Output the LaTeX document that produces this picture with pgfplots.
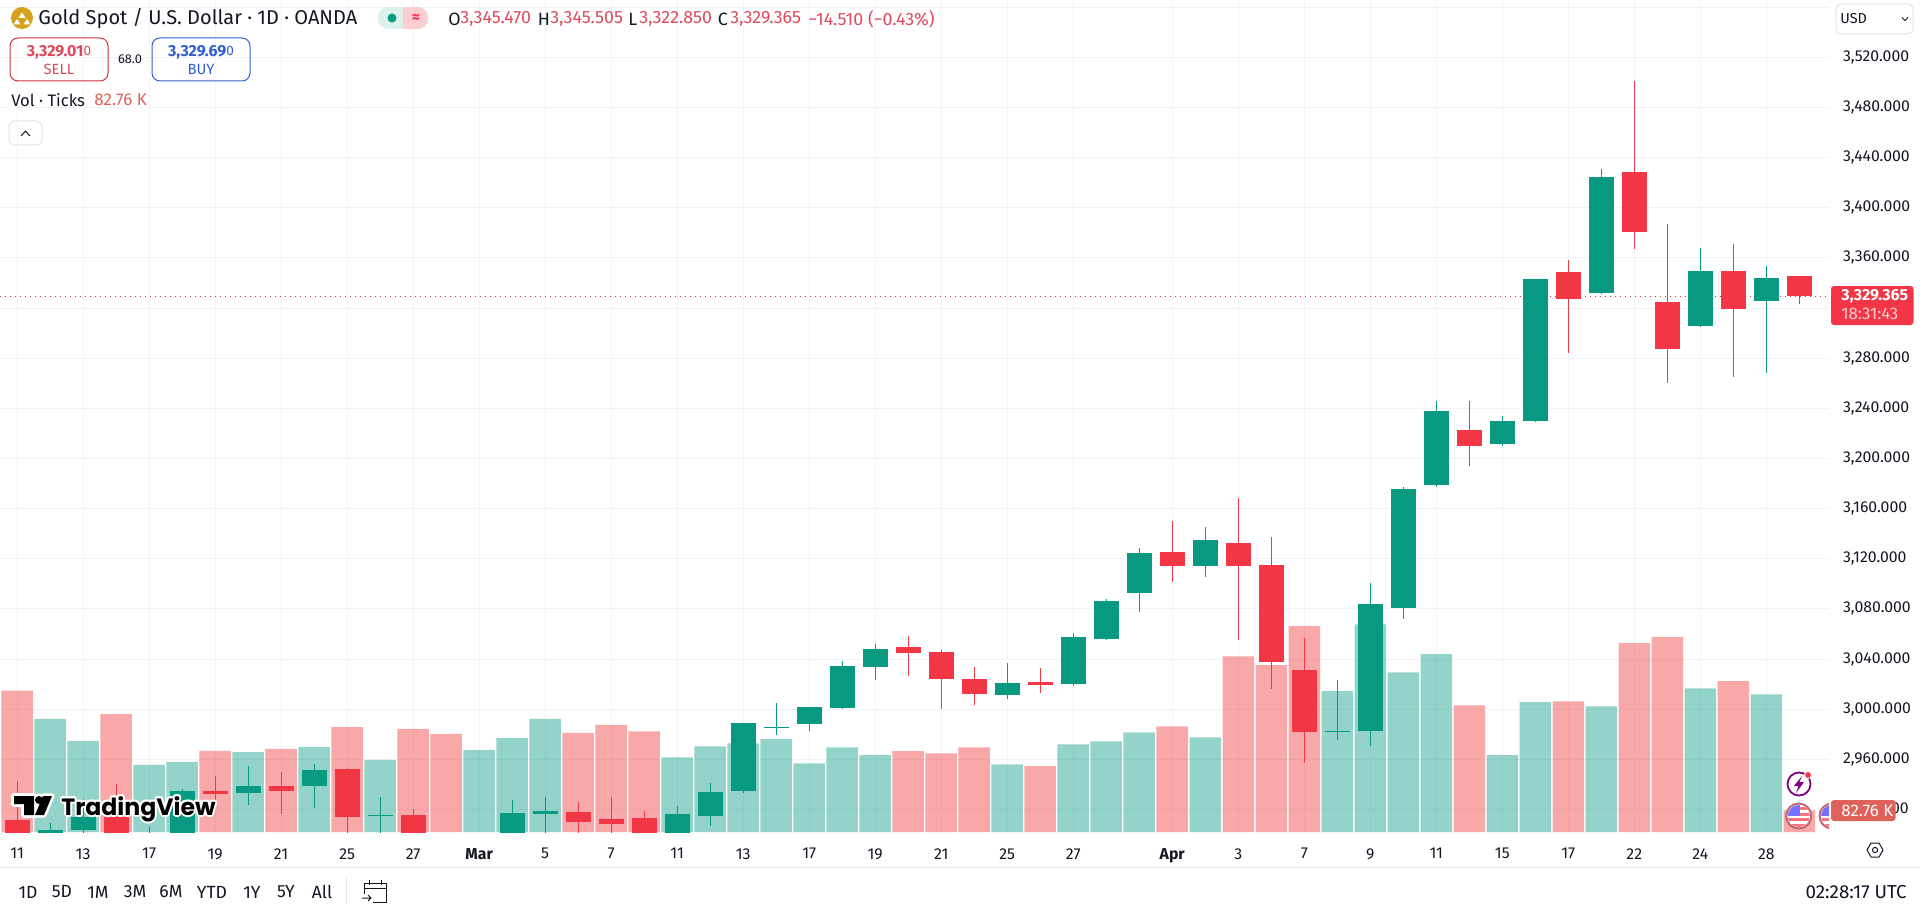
\documentclass[border=0pt]{standalone}
\usepackage{fontspec}
\usepackage{pgfplots}
\usepackage{pgfplotstable}
\pgfplotsset{compat=1.18}
\setmainfont{Fira Sans}
\newfontfamily\tvfont{Poppins}
\definecolor{upc}{HTML}{089981}
\definecolor{downc}{HTML}{F23645}
\definecolor{volred}{HTML}{F0363A}
\definecolor{inkc}{HTML}{131722}
\definecolor{gridc}{HTML}{F0F3FA}
\definecolor{redt}{HTML}{DD4A5C}
\definecolor{bluet}{HTML}{2F5FD0}
\definecolor{volt}{HTML}{E0605A}
\definecolor{sepc}{HTML}{E0E3EB}
\definecolor{goldc}{HTML}{D6A21E}
\pgfplotstableread{
x o h l c
1 2900 2909.4 2880 2903.6
2 2903.6 2928 2900 2914.2
4 2885 2906 2878 2896
5 2898 2936.3 2890 2934.7
7 2933.1 2954.7 2923.5 2938.7
9 2939 2956.3 2921.4 2951.5
11 2914.8 2930.2 2895 2915.6
14 2858 2892 2850 2887
15 2893 2927.5 2888 2917.2
16 2916.4 2930.2 2895 2918.8
20 2890 2922.8 2885 2916
21 2914.8 2940.9 2906.8 2934
22 2934.7 2989.3 2933.1 2988.7
23 2984.8 3005.2 2979.4 2985.8
24 2988.2 3002 2982.6 3001.5
25 3000.7 3038.7 3000.2 3034.2
26 3033.7 3052.3 3023 3047.8
30 3011.1 3036.6 3007.9 3020.6
32 3020.1 3060.5 3018.5 3057.3
33 3056 3087.7 3055 3086.1
34 3092.7 3128.4 3077.6 3124.4
36 3114.3 3145.6 3105.5 3134.7
40 2981.5 3023 2975.2 2982.3
41 2982.3 3100.4 2970.6 3083.7
42 3080.7 3177 3071.7 3175.6
43 3178.8 3245.8 3177.4 3237.8
45 3211.5 3233.8 3210.2 3229.8
46 3229.8 3343.5 3229.5 3343.1
48 3332.2 3430.6 3332 3424.5
51 3305.9 3367.9 3305.7 3349.5
53 3325.9 3353.5 3268.4 3343.9
}\upcandles
\pgfplotstableread{
x o h l c
0 2911.6 2942.7 2888 2895
3 2914.2 2940 2877 2882
6 2934.7 2946.7 2920 2932.3
8 2938.7 2950.1 2916.1 2935
10 2952.3 2952.8 2890 2914.2
12 2915.6 2920.1 2880 2885
13 2877 2883 2832 2858
17 2918 2926.2 2898 2910
18 2912.4 2929.7 2898 2908.4
19 2913 2919 2880 2888
27 3049.4 3058.1 3026.5 3044.8
28 3045.4 3047.5 3000 3023.8
29 3023.8 3033.4 3003.4 3011.9
31 3021.4 3032.6 3012.9 3019.3
35 3125.2 3149.9 3101.5 3114.3
37 3132.3 3168.2 3055 3114.3
38 3114.8 3137.1 3016.1 3037.7
39 3031 3057 2956.8 2981.8
44 3222.7 3245.8 3194.2 3209.9
47 3348.7 3358.3 3284.4 3327.4
49 3428.5 3501.1 3367.3 3380.9
50 3324.8 3387 3260.4 3287.6
52 3349.5 3371 3265.2 3319.5
54 3345.47 3345.505 3322.85 3329.365
}\downcandles
\pgfplotstableread{
x v
1 431
2 347
4 256
5 267
7 305
9 324
11 275
14 313
15 359
16 431
20 285
21 327
22 338
23 354
24 262
25 323
26 293
30 258
32 334
33 346
34 380
36 361
40 537
41 792
42 609
43 678
45 293
46 495
48 479
51 548
53 525
}\upvol
\pgfplotstableread{
x v
0 539
3 450
6 309
8 317
10 400
12 393
13 374
17 378
18 408
19 384
27 308
28 300
29 323
31 251
35 403
37 670
38 636
39 785
44 483
47 498
49 720
50 743
52 575
54 82.76
}\downvol
\pgfplotsset{
  chartbase/.style={at={(0,37.5pt)},anchor=south west,scale only axis,width=914.5pt,height=416pt,xmin=-0.518,xmax=54.9,clip=true},
  wick/.style={draw=none,mark=none,forget plot,error bars/.cd,y dir=both,y explicit,error mark=none,error bar style={solid,draw=#1,line width=0.55pt}},
  body/.style={draw=none,mark=none,forget plot,error bars/.cd,y dir=both,y explicit,error mark=none,error bar style={solid,draw=#1,line width=12.5pt,line cap=butt}},
}
\newcommand\wicks[2]{\addplot[wick=#1] table[x=x,y=o,y error plus expr={\thisrow{h}-\thisrow{o}},y error minus expr={\thisrow{o}-\thisrow{l}}] {#2};}
\newcommand\bodies[2]{\addplot[body=#1] table[x=x,y=o,y error plus expr={max(\thisrow{c}-\thisrow{o},0)},y error minus expr={max(\thisrow{o}-\thisrow{c},0)}] {#2};}
\newcommand\tv{\fontsize{11.8}{14}\tvfont\bfseries TradingView}
\begin{document}
\begin{tikzpicture}
\path[use as bounding box] (0,0) rectangle (960pt,453.5pt);
% axis with grid and tick labels
\begin{axis}[chartbase,ymin=2902,ymax=3565.7,
  axis line style={draw=none},major tick length=0pt,
  ytick={2920,2960,...,3520},extra y ticks={3560},extra y tick labels={},
  xtick={0,2,4,6,8,10,12,14,16,18,20,22,24,26,28,30,32,35,37,39,41,43,45,47,49,51,53},
  xticklabels={11,13,17,19,21,25,27,{\bfseries Mar},5,7,11,13,17,19,21,25,27,{\bfseries Apr},3,7,9,11,15,17,22,24,28},
  xmajorgrids,ymajorgrids,grid style={draw=gridc,line width=0.5pt},
  yticklabel pos=right,
  tick label style={font=\fontsize{7.9}{9}\selectfont,text=inkc},
  xticklabel style={yshift=-4.6pt,anchor=north},
  yticklabel style={anchor=west,xshift=3.5pt},
  /pgf/number format/assume math mode=true,
  y tick label style={/pgf/number format/.cd,fixed,fixed zerofill,precision=3,1000 sep={,}},
]
\addplot[forget plot,dotted,draw=downc!85!black,line width=0.5pt] coordinates {(-0.518,3329.365) (54.9,3329.365)};
\end{axis}
% volume
\begin{axis}[chartbase,hide axis,ymin=0,ymax=3173,ybar,bar width=15.75pt,bar shift=0pt]
\addplot[draw=none,fill=upc,fill opacity=0.43] table[x=x,y=v] {\upvol};
\addplot[draw=none,fill=volred,fill opacity=0.43] table[x=x,y=v] {\downvol};
\end{axis}
% candles
\begin{axis}[chartbase,hide axis,ymin=2902,ymax=3565.7]
\wicks{upc}{\upcandles}
\wicks{downc}{\downcandles}
\bodies{upc}{\upcandles}
\bodies{downc}{\downcandles}
\end{axis}
% interface, in reference pixels
\begin{scope}[x=0.5pt,y=-0.5pt,yshift=453.5pt]
% separator
\draw[sepc,line width=0.5pt] (0,867)--(1920,867);
% watermark
\begin{scope}[line join=round]
\path[draw=white,line width=2.6pt,fill=white] (14,796)--(34,796)--(34,815)--(24,815)--(24,804)--(14,804)--cycle;
\path[draw=white,line width=2.6pt,fill=white] (35,815)--(44,815)--(52,796)--(43,796)--cycle;
\path[draw=white,line width=2.6pt,fill=white] (39,800) circle (4);
\fill[black] (14,796)--(34,796)--(34,815)--(24,815)--(24,804)--(14,804)--cycle;
\fill[black] (35,815)--(44,815)--(52,796)--(43,796)--cycle;
\fill[black] (39,800) circle (4);
\foreach \dx/\dy in {-2/0,2/0,0/-2,0/2,-1.5/-1.5,1.5/-1.5,-1.5/1.5,1.5/1.5}
  \node[anchor=base west,inner sep=0pt,white] at (61+\dx,815+\dy) {\tv};
\node[anchor=base west,inner sep=0pt,black] at (61,815) {\tv};
\end{scope}
% header
\fill[goldc] (22,18) circle (11);
\fill[white] (22,12.5) -- (25.5,18) -- (18.5,18) -- cycle;
\fill[white] (17,19) -- (20.5,24.5) -- (13.5,24.5) -- cycle;
\fill[white] (27,19) -- (30.5,24.5) -- (23.5,24.5) -- cycle;
\node[anchor=west,inner sep=0pt,text=inkc,font=\fontsize{10}{12}\selectfont] at (38,19) {Gold Spot / U.S. Dollar · 1D · OANDA};
\begin{scope}
\clip[rounded corners=5pt] (378,7) rectangle (428,29);
\fill[upc!14] (378,7) rectangle (403,29);
\fill[downc!25] (403,7) rectangle (428,29);
\end{scope}
\fill[upc] (392,18) circle (4.5);
\node[text=downc,inner sep=0pt,font=\fontsize{8}{10}\selectfont\bfseries] at (416,18) {≈};
\begin{scope}[every node/.style={anchor=west,inner sep=0pt,font=\fontsize{8.9}{11}\selectfont}]
\node[text=inkc] at (448,19) {O};
\node[text=redt] at (460,19) {3,345.470};
\node[text=inkc] at (537.5,19) {H};
\node[text=redt] at (550,19) {3,345.505};
\node[text=inkc] at (628,19) {L};
\node[text=redt] at (639,19) {3,322.850};
\node[text=inkc] at (717.5,19) {C};
\node[text=redt] at (730,19) {3,329.365};
\node[text=redt] at (808,19) {−14.510 (−0.43\%)};
\node[text=inkc,font=\fontsize{8.3}{10}\selectfont] at (11,100) {Vol · Ticks};
\node[text=volt,font=\fontsize{8.5}{10}\selectfont] at (94,100) {82.76 K};
\end{scope}
\draw[downc!85!black,line width=0.5pt,rounded corners=4pt] (10,38) rectangle (108,81);
\draw[bluet,line width=0.5pt,rounded corners=4pt] (152,38) rectangle (250,81);
\node[text=redt,inner sep=0pt,font=\fontsize{8}{9}\selectfont] at (59,52) {\textbf{3,329.01}{\fontsize{6.8}{7}\selectfont\raisebox{0.4pt}{0}}};
\node[text=redt,inner sep=0pt,font=\fontsize{7.4}{8}\selectfont] at (59,69) {SELL};
\node[text=bluet,inner sep=0pt,font=\fontsize{8}{9}\selectfont] at (201,52) {\textbf{3,329.69}{\fontsize{6.8}{7}\selectfont\raisebox{0.4pt}{0}}};
\node[text=bluet,inner sep=0pt,font=\fontsize{7.4}{8}\selectfont] at (201,69) {BUY};
\node[text=inkc,inner sep=0pt,font=\fontsize{6.4}{8}\selectfont] at (130,59) {68.0};
\draw[sepc,line width=0.5pt,rounded corners=2.5pt] (9,121) rectangle (42,145);
\draw[inkc,line width=0.5pt] (21,136)--(25.5,131)--(30,136);
% USD box
\filldraw[fill=white,draw=sepc,line width=0.5pt,rounded corners=2.5pt] (1836,4) rectangle (1913,34);
\node[anchor=west,inner sep=0pt,text=inkc,font=\fontsize{7.2}{8}\selectfont] at (1840,19) {USD};
\draw[inkc,line width=0.5pt] (1902,17.5)--(1905,20.5)--(1908,17.5);
% price label
\fill[downc,rounded corners=1.5pt] (1831,286) rectangle (1913.5,325);
\node[anchor=west,inner sep=0pt,text=white,font=\fontsize{8}{9}\selectfont\bfseries] at (1841,296) {3,329.365};
\node[anchor=west,inner sep=0pt,text=white!75!downc,font=\fontsize{8.4}{10}\selectfont] at (1841,314) {18:31:43};
% icons
\draw[violet,line width=0.9pt] (1799,784) circle (11.5);
\fill[violet] (1802,776)--(1794,786)--(1798.5,786)--(1796,793)--(1804,782)--(1799.5,782)--cycle;
\filldraw[fill=downc,draw=white,line width=0.4pt] (1808,775) circle (3.5);
\begin{scope}
\clip (1700,790) rectangle (1829,840);
\foreach \cx in {1798.7,1832}{
\fill[white] (\cx,816) circle (12);
\begin{scope}
\clip (\cx,816) circle (11);
\fill[downc!70] (\cx-12,818) rectangle (\cx+12,821);
\fill[downc!70] (\cx-12,824) rectangle (\cx+12,827);
\fill[blue!55!white] (\cx-12,804) rectangle (\cx+1,816);
\fill[downc!70] (\cx+1,807) rectangle (\cx+12,810);
\fill[downc!70] (\cx+1,812.5) rectangle (\cx+12,815.5);
\end{scope}
\draw[downc!70!black!70,line width=1pt] (\cx,816) circle (12.5);
}
\end{scope}
% volume label
\fill[volt,rounded corners=1.5pt] (1831,800) rectangle (1895.5,821);
\node[anchor=west,inner sep=0pt,text=white,font=\fontsize{8.4}{10}\selectfont] at (1841,811) {82.76 K};
% settings hexagon
\draw[inkc,line width=0.5pt,line join=round] (1867,850)--(1871,843)--(1879,843)--(1883,850)--(1879,857)--(1871,857)--cycle;
\draw[inkc,line width=0.5pt] (1875,850) circle (2.6);
% toolbar
\begin{scope}[every node/.style={inner sep=0pt,text=inkc,font=\fontsize{8.8}{10}\selectfont}]
\node at (28,892) {1D};
\node at (62,892) {5D};
\node at (98,892) {1M};
\node at (135,892) {3M};
\node at (171,892) {6M};
\node at (212,892) {YTD};
\node at (252,892) {1Y};
\node at (286,892) {5Y};
\node at (322,892) {All};
\node[anchor=east,font=\fontsize{9.4}{11}\selectfont] at (1907,892) {02:28:17 UTC};
\end{scope}
\draw[sepc,line width=0.5pt] (346,878)--(346,903);
\draw[inkc,line width=0.5pt] (364,894)--(364,883)--(386,883)--(386,902)--(373,902);
\draw[inkc,line width=0.5pt] (364,888)--(386,888);
\draw[inkc,line width=0.5pt] (369,880)--(369,885) (381,880)--(381,885);
\draw[inkc,line width=0.5pt] (362,898)--(371,898) (368,895)--(371,898)--(368,901);
\end{scope}
\end{tikzpicture}
\end{document}
